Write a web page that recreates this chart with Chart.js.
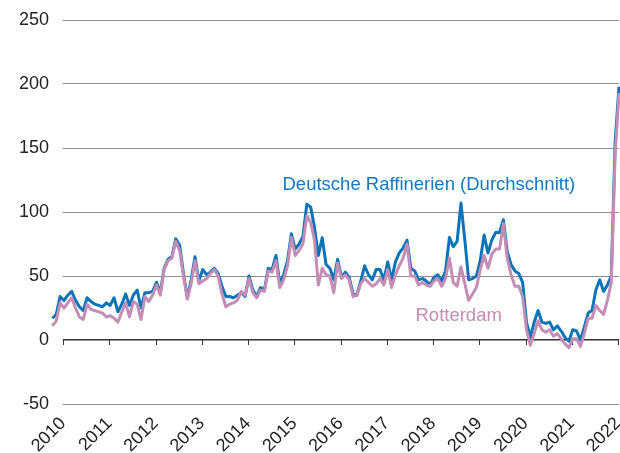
<!DOCTYPE html>
<html>
<head>
<meta charset="utf-8">
<script src="https://cdn.jsdelivr.net/npm/chart.js@4/dist/chart.umd.min.js"></script>
<style>
  body { margin: 0; background: #fff; }
  #wrap { width: 620px; height: 453px; }
</style>
</head>
<body>
<div id="wrap"><canvas id="marginChart"></canvas></div>
<script>
// monthly values, Jan 2010 .. Apr 2022
var deutsche = [
  17, 20, 34, 31, 35, 38, 31, 26, 23, 33, 30, 28, 27, 26, 29, 27, 33, 22, 28, 36, 27, 35, 39, 25, 37,
  37, 38, 45, 37, 56, 63, 65, 79, 74, 52, 33, 47, 65, 46, 55, 51, 53, 56, 52, 42, 34, 34, 33,
  35, 37, 34, 50, 39, 34, 41, 39, 56, 55, 66, 44, 51, 62, 83, 71, 75, 81, 106, 104, 88, 66, 80, 59, 56, 47, 63,
  49, 53, 49, 36, 35, 46, 58, 51, 47, 55, 55, 47, 61, 47, 61, 68, 72, 78, 56, 54, 47, 48, 46, 43, 49,
  51, 46, 54, 80, 73, 77, 107, 78, 47, 48, 50, 62, 82, 68, 78, 84, 84, 94, 69, 59, 54, 52, 45, 14,
  2, 14, 23, 14, 13, 14, 8, 11, 7, 2, -1, 8, 7, 0, 10, 21, 23, 39, 47, 38, 43, 50, 155, 198
];
var rotterdam = [
  11, 15, 29, 25, 29, 33, 25, 18, 16, 28, 24, 23, 22, 21, 18, 19, 17, 14, 22, 29, 18, 30, 28, 16, 34,
  30, 35, 43, 35, 55, 62, 64, 77, 70, 50, 32, 44, 62, 44, 46, 48, 52, 55, 50, 36, 26, 28, 29,
  31, 38, 35, 48, 37, 33, 39, 38, 54, 53, 62, 41, 47, 58, 80, 66, 70, 75, 97, 92, 78, 43, 56, 51, 50, 37, 60,
  48, 51, 47, 34, 35, 44, 48, 45, 42, 44, 48, 43, 55, 41, 51, 58, 64, 75, 50, 50, 43, 45, 43, 42, 46,
  48, 42, 48, 64, 45, 42, 57, 44, 31, 36, 41, 55, 66, 56, 67, 71, 71, 91, 64, 51, 42, 42, 34, 8,
  -4, 5, 15, 8, 6, 8, 3, 5, 1, -3, -6, 1, 1, -5, 5, 17, 17, 27, 23, 20, 31, 45, 145, 193
];
var years = ['2010', '2011', '2012', '2013', '2014', '2015', '2016', '2017', '2018', '2019', '2020', '2021', '2022'];
var yTicks = [-50, 0, 50, 100, 150, 200, 250];

var blue = '#0B74B8';
var pink = '#C38DB5';
var firstTick = 2.75; // month index under the "2010" tick

function toPoints(arr) {
  return arr.map(function (v, i) { return { x: i, y: v }; });
}

// small tick marks hanging below the zero line + the two series labels
var extras = {
  id: 'extras',
  beforeDatasetsDraw: function (chart) {
    var ctx = chart.ctx, xs = chart.scales.x, ys = chart.scales.y;
    var y0 = ys.getPixelForValue(0);
    ctx.save();
    ctx.strokeStyle = '#333';
    ctx.lineWidth = 1;
    xs.ticks.forEach(function (t) {
      var px = Math.round(xs.getPixelForValue(t.value)) + 0.5;
      ctx.beginPath();
      ctx.moveTo(px, y0);
      ctx.lineTo(px, y0 + 5);
      ctx.stroke();
    });
    ctx.restore();
  },
  afterDraw: function (chart) {
    var ctx = chart.ctx, xs = chart.scales.x, ys = chart.scales.y;
    ctx.save();
    ctx.font = '18.5px "Liberation Sans", Arial, sans-serif';
    ctx.textBaseline = 'middle';
    ctx.textAlign = 'left';
    ctx.fillStyle = '#1479BD';
    ctx.fillText('Deutsche Raffinerien (Durchschnitt)', xs.getPixelForValue(59.7), ys.getPixelForValue(121));
    ctx.fillStyle = pink;
    ctx.fillText('Rotterdam', xs.getPixelForValue(94.2), ys.getPixelForValue(19));
    ctx.restore();
  }
};

new Chart(document.getElementById('marginChart'), {
  type: 'line',
  data: {
    datasets: [{
      label: 'Rotterdam',
      data: toPoints(rotterdam),
      borderColor: pink,
      borderWidth: 3,
      borderJoinStyle: 'round',
      pointRadius: 0,
      tension: 0,
      clip: false,
      order: 0
    }, {
      label: 'Deutsche Raffinerien (Durchschnitt)',
      data: toPoints(deutsche),
      borderColor: blue,
      borderWidth: 3,
      borderJoinStyle: 'round',
      pointRadius: 0,
      tension: 0,
      clip: false,
      order: 1
    }]
  },
  options: {
    responsive: true,
    maintainAspectRatio: false,
    animation: false,
    layout: { padding: { top: 20, right: 1, left: 0, bottom: 0 } },
    plugins: {
      legend: { display: false },
      tooltip: { enabled: false }
    },
    scales: {
      x: {
        type: 'linear',
        bounds: 'data',
        grid: { display: false, drawTicks: false },
        border: { display: false },
        // range set here (not via min/max) so the first months left of the 2010 tick still get drawn
        afterDataLimits: function (axis) {
          axis.min = firstTick;
          axis.max = 147;
        },
        afterBuildTicks: function (axis) {
          axis.ticks = years.map(function (y, k) { return { value: firstTick + 12 * k }; });
        },
        afterFit: function (axis) {
          axis.height = 49;
          axis.paddingLeft = 0;
          axis.paddingRight = 0;
        },
        ticks: {
          autoSkip: false,
          minRotation: 45,
          maxRotation: 45,
          padding: 9,
          color: '#222',
          font: { family: '"Liberation Sans", Arial, sans-serif', size: 18 },
          callback: function (v, i) { return years[i]; }
        }
      },
      y: {
        min: -50,
        max: 250,
        afterBuildTicks: function (axis) {
          axis.ticks = yTicks.map(function (v) { return { value: v }; });
        },
        afterFit: function (axis) {
          axis.width = 63;
          axis.paddingTop = 0;
          axis.paddingBottom = 0;
        },
        grid: {
          drawTicks: false,
          color: function (c) { return c.tick && c.tick.value === 0 ? '#333' : '#8c8c8c'; },
          lineWidth: function (c) { return c.tick && c.tick.value === 0 ? 1.6 : 1; }
        },
        border: { display: false },
        ticks: {
          padding: 14,
          color: '#222',
          font: { family: '"Liberation Sans", Arial, sans-serif', size: 18 }
        }
      }
    }
  },
  plugins: [extras]
});
</script>
</body>
</html>
